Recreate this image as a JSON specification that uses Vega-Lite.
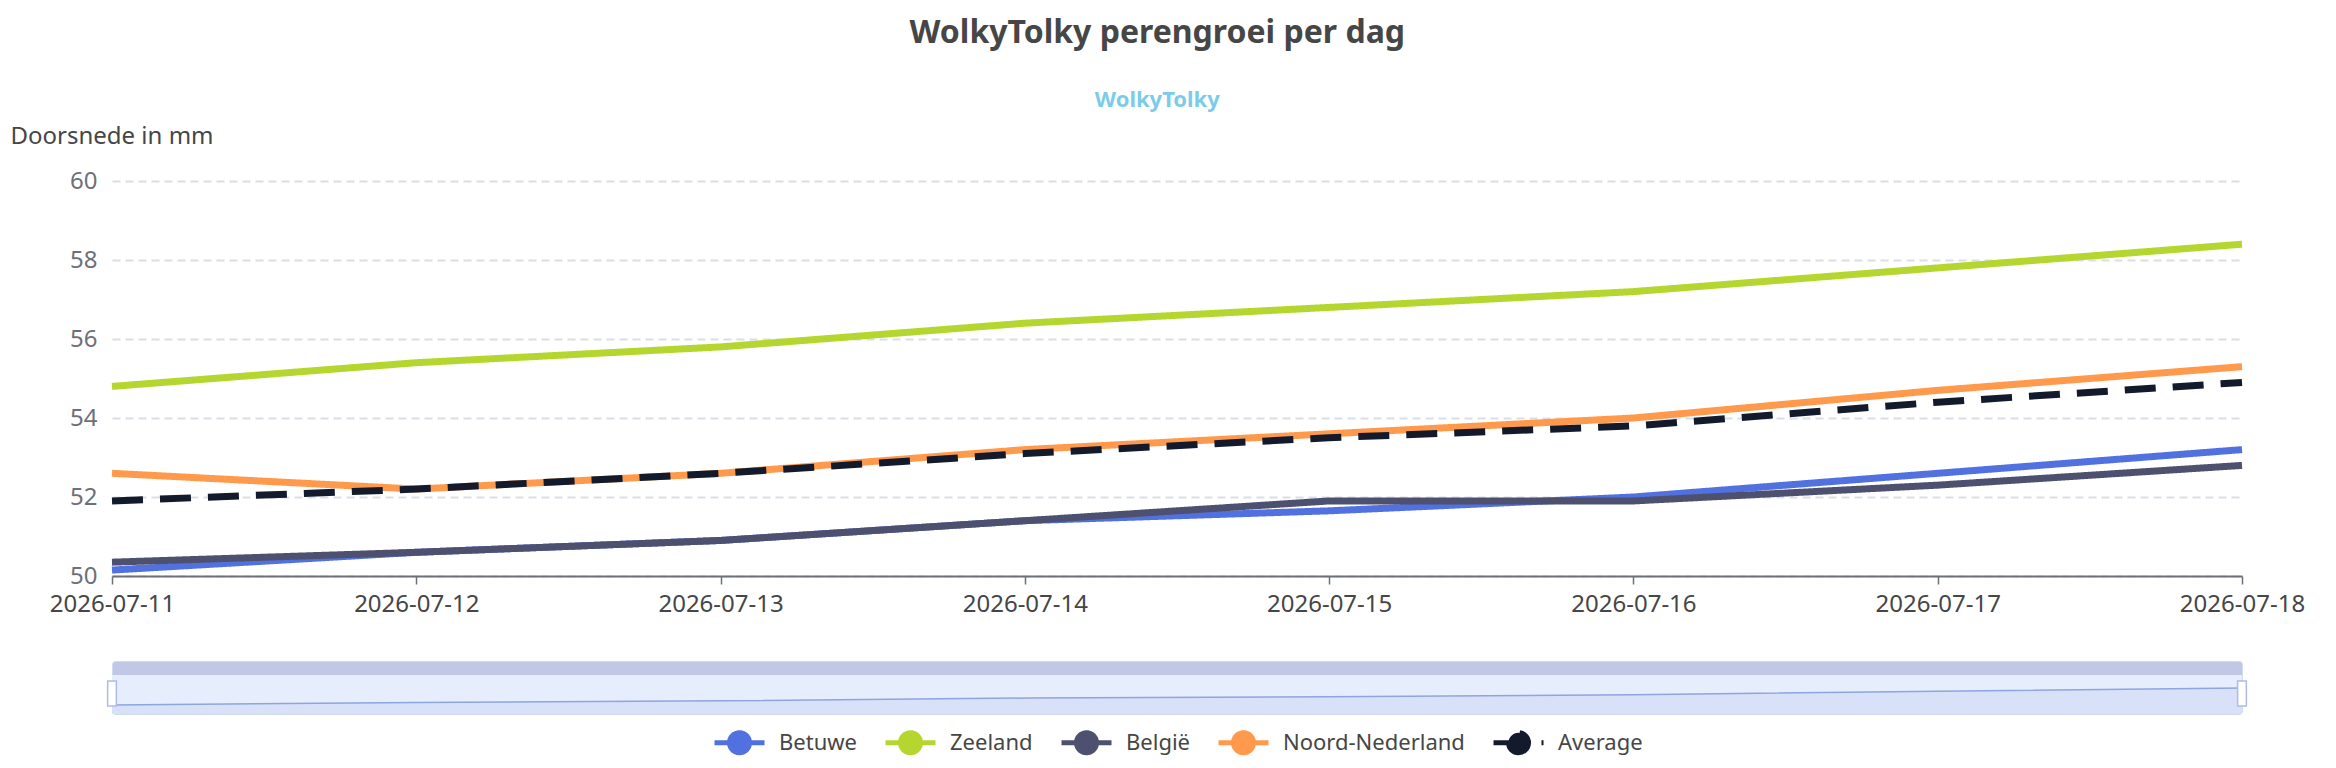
{
  "$schema": "https://vega.github.io/schema/vega-lite/v6.json",
  "background": "white",
  "padding": {"left": 10, "top": 17, "right": 10, "bottom": 5},
  "title": {
    "text": "WolkyTolky perengroei per dag",
    "subtitle": "WolkyTolky",
    "anchor": "middle",
    "fontSize": 32,
    "fontWeight": "bold",
    "color": "#464646",
    "subtitleFontSize": 22,
    "subtitleFontWeight": "bold",
    "subtitleColor": "#7ccbe9",
    "subtitlePadding": 40,
    "offset": 12
  },
  "datasets": {
    "pears": [
      {"date": "2026-07-11", "series": "Betuwe", "value": 50.15},
      {"date": "2026-07-12", "series": "Betuwe", "value": 50.6},
      {"date": "2026-07-13", "series": "Betuwe", "value": 50.9},
      {"date": "2026-07-14", "series": "Betuwe", "value": 51.4},
      {"date": "2026-07-15", "series": "Betuwe", "value": 51.65},
      {"date": "2026-07-16", "series": "Betuwe", "value": 52.0},
      {"date": "2026-07-17", "series": "Betuwe", "value": 52.6},
      {"date": "2026-07-18", "series": "Betuwe", "value": 53.2},
      {"date": "2026-07-11", "series": "Zeeland", "value": 54.8},
      {"date": "2026-07-12", "series": "Zeeland", "value": 55.4},
      {"date": "2026-07-13", "series": "Zeeland", "value": 55.8},
      {"date": "2026-07-14", "series": "Zeeland", "value": 56.4},
      {"date": "2026-07-15", "series": "Zeeland", "value": 56.8},
      {"date": "2026-07-16", "series": "Zeeland", "value": 57.2},
      {"date": "2026-07-17", "series": "Zeeland", "value": 57.8},
      {"date": "2026-07-18", "series": "Zeeland", "value": 58.4},
      {"date": "2026-07-11", "series": "België", "value": 50.35},
      {"date": "2026-07-12", "series": "België", "value": 50.6},
      {"date": "2026-07-13", "series": "België", "value": 50.9},
      {"date": "2026-07-14", "series": "België", "value": 51.4},
      {"date": "2026-07-15", "series": "België", "value": 51.9},
      {"date": "2026-07-16", "series": "België", "value": 51.9},
      {"date": "2026-07-17", "series": "België", "value": 52.3},
      {"date": "2026-07-18", "series": "België", "value": 52.8},
      {"date": "2026-07-11", "series": "Noord-Nederland", "value": 52.6},
      {"date": "2026-07-12", "series": "Noord-Nederland", "value": 52.2},
      {"date": "2026-07-13", "series": "Noord-Nederland", "value": 52.6},
      {"date": "2026-07-14", "series": "Noord-Nederland", "value": 53.2},
      {"date": "2026-07-15", "series": "Noord-Nederland", "value": 53.6},
      {"date": "2026-07-16", "series": "Noord-Nederland", "value": 54.0},
      {"date": "2026-07-17", "series": "Noord-Nederland", "value": 54.7},
      {"date": "2026-07-18", "series": "Noord-Nederland", "value": 55.3},
      {"date": "2026-07-11", "series": "Average", "value": 51.9},
      {"date": "2026-07-12", "series": "Average", "value": 52.2},
      {"date": "2026-07-13", "series": "Average", "value": 52.6},
      {"date": "2026-07-14", "series": "Average", "value": 53.1},
      {"date": "2026-07-15", "series": "Average", "value": 53.5},
      {"date": "2026-07-16", "series": "Average", "value": 53.8},
      {"date": "2026-07-17", "series": "Average", "value": 54.4},
      {"date": "2026-07-18", "series": "Average", "value": 54.9}
    ]
  },
  "bounds": "flush",
  "spacing": 85,
  "resolve": {"scale": {"x": "independent", "y": "independent"}},
  "vconcat": [
    {
      "width": 2130,
      "height": 395,
      "data": {"name": "pears"},
      "mark": {"type": "line", "strokeWidth": 7, "strokeCap": "butt", "strokeJoin": "round"},
      "encoding": {
        "x": {
          "field": "date",
          "type": "ordinal",
          "scale": {"type": "point", "padding": 0},
          "axis": {
            "title": null,
            "labelAngle": 0,
            "labelFontSize": 24,
            "labelColor": "#464646",
            "labelPadding": 8,
            "tickSize": 8,
            "tickColor": "#6e7079",
            "tickWidth": 1.5,
            "domainColor": "#6e7079",
            "domainWidth": 2,
            "grid": false,
            "labelOverlap": false,
            "labelFlush": false,
            "labelBound": false
          }
        },
        "y": {
          "field": "value",
          "type": "quantitative",
          "scale": {"domain": [50, 60], "zero": false, "nice": false},
          "axis": {
            "title": "Doorsnede in mm",
            "values": [50, 52, 54, 56, 58, 60],
            "domain": false,
            "ticks": false,
            "tickSize": 0,
            "labelPadding": 15,
            "labelFontSize": 24,
            "labelColor": "#6e7079",
            "grid": true,
            "gridDash": [8, 5],
            "gridColor": "#dcdee6",
            "gridWidth": 2,
            "titleAngle": 0,
            "titleAlign": "left",
            "titleBaseline": "middle",
            "titleX": -102,
            "titleY": -45,
            "titleFontSize": 24,
            "titleFontWeight": "normal",
            "titleColor": "#464646"
          }
        },
        "color": {
          "field": "series",
          "type": "nominal",
          "scale": {
            "domain": ["Betuwe", "Zeeland", "België", "Noord-Nederland", "Average"],
            "range": ["#5271e0", "#b5d62f", "#4e5070", "#ff9a4c", "#121a2c"]
          },
          "legend": {
            "title": null,
            "orient": "bottom",
            "direction": "horizontal",
            "offset": 0,
            "labelFontSize": 22,
            "labelColor": "#464646",
            "labelOffset": 12,
            "labelLimit": 0,
            "columnPadding": 18,
            "symbolType": "M-1,0L1,0M0.4,0A0.4,0.4,0,1,1,-0.4,0A0.4,0.4,0,1,1,0.4,0Z",
            "symbolSize": 2500,
            "symbolStrokeWidth": 5,
            "encode": {
              "symbols": {
                "update": {
                  "fill": {"scale": "color", "field": "value"},
                  "fillOpacity": {"value": 1}
                }
              }
            }
          }
        },
        "strokeDash": {
          "field": "series",
          "type": "nominal",
          "scale": {
            "domain": ["Betuwe", "Zeeland", "België", "Noord-Nederland", "Average"],
            "range": [[1, 0], [1, 0], [1, 0], [1, 0], [31, 17]]
          },
          "legend": null
        }
      }
    },
    {
      "width": 2130,
      "height": 53,
      "data": {"name": "pears"},
      "transform": [{"filter": "datum.series === 'Betuwe'"}],
      "view": {"fill": "#c0c8e6", "stroke": "#d2dbee", "cornerRadius": 3},
      "encoding": {
        "x": {"field": "date", "type": "ordinal", "scale": {"type": "point", "padding": 0}, "axis": null}
      },
      "layer": [
        {
          "mark": {"type": "area", "color": "#e6edfc"},
          "encoding": {
            "y": {"datum": 55.53, "type": "quantitative", "scale": {"domain": [48.54, 58.04], "nice": false, "zero": false}, "axis": null},
            "y2": {"datum": 48.54}
          }
        },
        {
          "mark": {"type": "area", "color": "#d9e1f8"},
          "encoding": {
            "y": {"field": "value", "type": "quantitative"},
            "y2": {"datum": 48.54}
          }
        },
        {
          "mark": {"type": "line", "color": "#8fa5e0", "strokeWidth": 1.5},
          "encoding": {"y": {"field": "value", "type": "quantitative"}}
        },
        {
          "transform": [{"filter": "datum.date === '2026-07-11' || datum.date === '2026-07-18'"}],
          "mark": {"type": "point", "shape": "M-0.35,-1L0.35,-1L0.35,1L-0.35,1Z", "size": 625, "filled": true, "fill": "white", "stroke": "#aebbe6", "strokeWidth": 1.5, "opacity": 1},
          "encoding": {"y": {"datum": 52.2, "type": "quantitative"}}
        }
      ]
    }
  ],
  "config": {
    "font": "Noto Sans",
    "view": {"stroke": null},
    "legend": {"layout": {"bottom": {"anchor": "middle"}}}
  }
}
